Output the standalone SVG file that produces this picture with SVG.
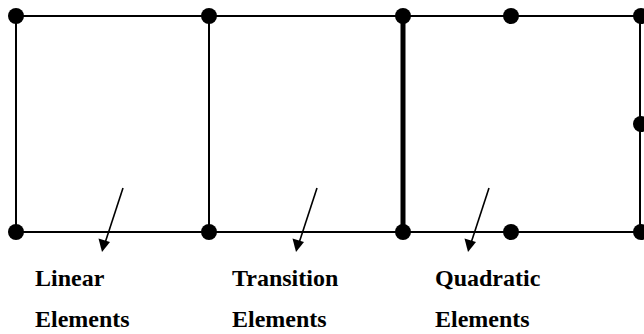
<svg xmlns="http://www.w3.org/2000/svg" width="644" height="334" viewBox="0 0 644 334">
<style>
.e{stroke:#000;stroke-width:2;fill:none}
.thick{stroke:#000;stroke-width:5;fill:none}
.n{fill:#000}
.a{stroke:#000;stroke-width:1.6;fill:none}
.h{fill:#000}
.t{font-family:"Liberation Serif","Times New Roman",serif;font-weight:bold;font-size:24px;fill:#000}
</style>
<rect width="644" height="334" fill="#fff"/>
<g id="connectors">
<line class="e" x1="16" y1="16" x2="641" y2="16"/>
<line class="e" x1="16" y1="232" x2="641" y2="232"/>
<line class="e" x1="16" y1="16" x2="16" y2="232"/>
<line class="e" x1="209" y1="16" x2="209" y2="232"/>
<line class="thick" x1="403" y1="16" x2="403" y2="232"/>
<line class="e" x1="640" y1="16" x2="640" y2="232"/>
</g>
<g id="nodes">
<circle id="n1" class="n" cx="16" cy="16" r="8"/>
<circle id="n2" class="n" cx="209" cy="16" r="8"/>
<circle id="n3" class="n" cx="403" cy="16" r="8"/>
<circle id="n4" class="n" cx="511" cy="16" r="8"/>
<circle id="n5" class="n" cx="641" cy="16" r="8"/>
<circle id="n6" class="n" cx="641" cy="124" r="8"/>
<circle id="n7" class="n" cx="16" cy="232" r="8"/>
<circle id="n8" class="n" cx="209" cy="232" r="8"/>
<circle id="n9" class="n" cx="403" cy="232" r="8"/>
<circle id="n10" class="n" cx="511" cy="232" r="8"/>
<circle id="n11" class="n" cx="641" cy="232" r="8"/>
</g>
<g id="arrows">
<path d="M123,188 L105,243" class="a"/>
<path class="h" d="M102,252 L98.5,238.5 L110,242 Z"/>
<path d="M317,188 L299,243" class="a"/>
<path class="h" d="M296,252 L292.5,238.5 L304,242 Z"/>
<path d="M489,188 L471,243" class="a"/>
<path class="h" d="M468,252 L464.5,238.5 L476,242 Z"/>
</g>
<g id="labels">
<text class="t" x="35" y="286">Linear</text>
<text class="t" x="35" y="327">Elements</text>
<text class="t" x="232" y="286">Transition</text>
<text class="t" x="232" y="327">Elements</text>
<text class="t" x="435" y="286">Quadratic</text>
<text class="t" x="435" y="327">Elements</text>
</g>
</svg>
